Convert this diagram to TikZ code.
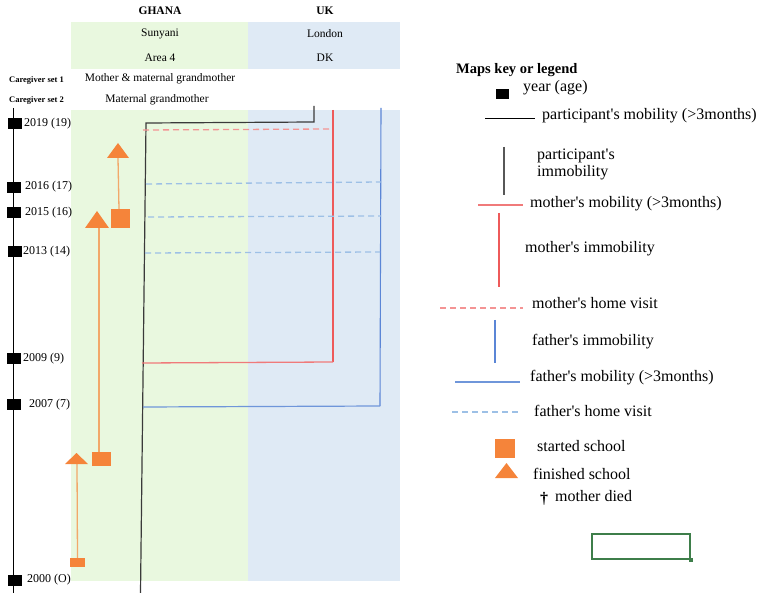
\documentclass[tikz,border=0pt]{standalone}
\usepackage{fontspec}
\setmainfont{Liberation Serif}
\newcommand\apos{\textquotesingle}
\definecolor{ghanabg}{HTML}{E9F8DF}
\definecolor{ukbg}{HTML}{DFEAF5}
\definecolor{momred}{HTML}{EE5A5A}
\definecolor{momhor}{HTML}{F07A7A}
\definecolor{momdash}{HTML}{F49494}
\definecolor{dadblue}{HTML}{5B86D6}
\definecolor{dadhor}{HTML}{6F96DA}
\definecolor{daddash}{HTML}{9DC0E6}
\definecolor{schoolor}{HTML}{F5843A}
\definecolor{schoolline}{HTML}{F2A86A}
\definecolor{partline}{HTML}{3A3A3A}
\definecolor{cellgreen}{HTML}{3E7E4A}
\tikzset{
  hdr/.style={font=\fontsize{11.5}{13}\selectfont, inner sep=0pt},
  hdrb/.style={font=\bfseries\fontsize{11.5}{13}\selectfont, inner sep=0pt},
  cgl/.style={font=\bfseries\fontsize{8.5}{10}\selectfont, inner sep=0pt, anchor=west},
  yearlbl/.style={font=\fontsize{12}{14}\selectfont, inner sep=0pt, anchor=west},
  yearbox/.style={fill=black, draw=none, minimum width=14pt, minimum height=11pt, inner sep=0pt},
  leg/.style={font=\fontsize{16}{18}\selectfont, inner sep=0pt, anchor=west},
  partmob/.style={draw=partline, line width=1.2pt},
  mommob/.style={draw=momred, line width=1.1pt},
  momhl/.style={draw=momhor, line width=1.3pt},
  momvisit/.style={draw=momdash, line width=1.3pt, dash pattern=on 6pt off 4pt},
  dadmob/.style={draw=dadblue, line width=1.1pt},
  dadhl/.style={draw=dadhor, line width=1.2pt},
  dadvisit/.style={draw=daddash, line width=1.3pt, dash pattern=on 6pt off 4pt},
  schoolconn/.style={draw=schoolline, line width=1.3pt},
  schoolfill/.style={fill=schoolor, draw=none}
}
\begin{document}
\begin{tikzpicture}[x=1pt,y=-1pt]
\useasboundingbox (0,0) rectangle (760,593);
% backgrounds
\fill[ghanabg] (71,22) rectangle (248,69);
\fill[ukbg] (248,22) rectangle (400,69);
\fill[ghanabg] (71,110) rectangle (248,581);
\fill[ukbg] (248,110) rectangle (400,581);
% header texts
\node[hdrb] (ghana) at (160,11) {GHANA};
\node[hdrb] (uk) at (325,11) {UK};
\node[hdr] (sunyani) at (160,34) {Sunyani};
\node[hdr] (london) at (325,34) {London};
\node[hdr] (area4) at (160,58) {Area 4};
\node[hdr] (dk) at (325,58) {DK};
\node[cgl] (cg1) at (9,80) {Caregiver set 1};
\node[cgl] (cg2) at (9,100) {Caregiver set 2};
\node[hdr] (cg1t) at (160,79) {Mother \& maternal grandmother};
\node[hdr] (cg2t) at (157,100) {Maternal grandmother};
% time axis
\coordinate (axtop) at (13,108);
\coordinate (axbot) at (13,593);
\draw[black, line width=1pt] (axtop) -- (axbot);
\node[yearbox] (y2019) at (14.5,123.5) {};
\node[yearbox] (y2016) at (13.5,188) {};
\node[yearbox] (y2015) at (13.5,213) {};
\node[yearbox] (y2013) at (14.5,252) {};
\node[yearbox] (y2009) at (13.5,359) {};
\node[yearbox] (y2007) at (13.5,404) {};
\node[yearbox] (y2000) at (15,580) {};
\node[yearlbl] (l2019) at (24,123.5) {2019 (19)};
\node[yearlbl] (l2016) at (25,187) {2016 (17)};
\node[yearlbl] (l2015) at (25,213) {2015 (16)};
\node[yearlbl] (l2013) at (23,252) {2013 (14)};
\node[yearlbl] (l2009) at (23,359) {2009 (9)};
\node[yearlbl] (l2007) at (29,405) {2007 (7)};
\node[yearlbl] (l2000) at (27,580) {2000 (O)};
% participant mobility
\coordinate (p0) at (140.5,593);
\coordinate (p1) at (146,123);
\coordinate (p2) at (314,122);
\coordinate (p3) at (314,106);
\draw[partmob] (p0) -- (p1) -- (p2) -- (p3);
% mother
\coordinate (m0) at (333,110);
\coordinate (m1) at (333,362);
\coordinate (m2) at (142,363);
\draw[mommob] (m0) -- (m1);
\draw[momhl] (m1) -- (m2);
\coordinate (mv0) at (143,130);
\coordinate (mv1) at (332,129);
\draw[momvisit] (mv0) -- (mv1);
% father
\coordinate (f0) at (381,108);
\coordinate (f1) at (380,406);
\coordinate (f2) at (143,407);
\draw[dadmob] (f0) -- (f1);
\draw[dadhl] (f1) -- (f2);
\coordinate (fv1a) at (146,184);
\coordinate (fv1b) at (381,182);
\coordinate (fv2a) at (148,217);
\coordinate (fv2b) at (381,216);
\coordinate (fv3a) at (145,253);
\coordinate (fv3b) at (380,252);
\draw[dadvisit] (fv1a) -- (fv1b);
\draw[dadvisit] (fv2a) -- (fv2b);
\draw[dadvisit] (fv3a) -- (fv3b);
% school 3 (primary)
\coordinate (t3top) at (76.5,453);
\coordinate (t3l) at (65,464);
\coordinate (t3r) at (88,464);
\node[schoolfill, minimum width=15pt, minimum height=9pt, inner sep=0pt] (s3) at (77.5,562.5) {};
\draw[schoolconn] (s3.north) -- (77,464);
\fill[schoolor] (t3l) -- (t3top) -- (t3r) -- cycle;
% school 2
\coordinate (t2top) at (97,211);
\coordinate (t2l) at (85,228);
\coordinate (t2r) at (109,228);
\node[schoolfill, minimum width=19pt, minimum height=14pt, inner sep=0pt] (s2) at (101.5,459) {};
\draw[schoolconn] (99,452) -- (99,228);
\fill[schoolor] (t2l) -- (t2top) -- (t2r) -- cycle;
% school 1
\coordinate (t1top) at (118,143);
\coordinate (t1l) at (107,158);
\coordinate (t1r) at (129,158);
\node[schoolfill, minimum width=19pt, minimum height=19pt, inner sep=0pt] (s1) at (120.5,218.5) {};
\draw[schoolconn] (119,209) -- (118,158);
\fill[schoolor] (t1l) -- (t1top) -- (t1r) -- cycle;
% legend
\node[font=\bfseries\fontsize{14.5}{16}\selectfont, inner sep=0pt, anchor=west] (legtitle) at (456,70) {Maps key or legend};
\node[yearbox, minimum width=13pt, minimum height=10pt] (lgyear) at (502.5,94) {};
\node[leg] (lgyeart) at (523,88) {year (age)};
\coordinate (lpm0) at (485,119);
\coordinate (lpm1) at (535,119);
\draw[black, line width=1pt] (lpm0) -- (lpm1);
\node[leg] (lpmt) at (542,116) {participant\apos s mobility (>3months)};
\coordinate (lpi0) at (504,147);
\coordinate (lpi1) at (504,195);
\draw[partline!85, line width=1.2pt] (lpi0) -- (lpi1);
\node[leg, align=left] (lpit) at (537,164) {participant\apos s\\[-1pt]immobility};
\coordinate (lmm0) at (478,205);
\coordinate (lmm1) at (523,205);
\draw[momhl] (lmm0) -- (lmm1);
\node[leg] (lmmt) at (530,204) {mother\apos s mobility (>3months)};
\coordinate (lmi0) at (499,213);
\coordinate (lmi1) at (499,287);
\draw[mommob] (lmi0) -- (lmi1);
\node[leg] (lmit) at (525,249) {mother\apos s immobility};
\coordinate (lmv0) at (440,308);
\coordinate (lmv1) at (523,308);
\draw[momvisit] (lmv0) -- (lmv1);
\node[leg] (lmvt) at (532,303) {mother\apos s home visit};
\coordinate (lfi0) at (495,320);
\coordinate (lfi1) at (495,363);
\draw[dadmob] (lfi0) -- (lfi1);
\node[leg] (lfit) at (532,342) {father\apos s immobility};
\coordinate (lfm0) at (455,382);
\coordinate (lfm1) at (520,382);
\draw[dadhl] (lfm0) -- (lfm1);
\node[leg] (lfmt) at (530,378) {father\apos s mobility (>3months)};
\coordinate (lfv0) at (452,412);
\coordinate (lfv1) at (519,412);
\draw[dadvisit] (lfv0) -- (lfv1);
\node[leg] (lfvt) at (534,411) {father\apos s home visit};
\node[schoolfill, minimum width=20pt, minimum height=19pt, inner sep=0pt] (lgsq) at (505,448.5) {};
\node[leg] (lgsqt) at (537,446) {started school};
\fill[schoolor] (495,478) -- (506.5,463) -- (518,478) -- cycle;
\coordinate (lgtri) at (506.5,471);
\node[leg] (lgtrit) at (533,474) {finished school};
\node[font=\bfseries\fontsize{16}{18}\selectfont, inner sep=0pt, anchor=west] (lgdag) at (540,499) {†};
\node[leg] (lgdagt) at (555,496) {mother died};
% selected cell
\node[draw=cellgreen, line width=1.5pt, minimum width=98pt, minimum height=25pt, inner sep=0pt] (cell) at (641,546.5) {};
\node[fill=cellgreen, minimum width=4pt, minimum height=4pt, inner sep=0pt] (cellh) at (cell.south east) {};
\end{tikzpicture}
\end{document}
